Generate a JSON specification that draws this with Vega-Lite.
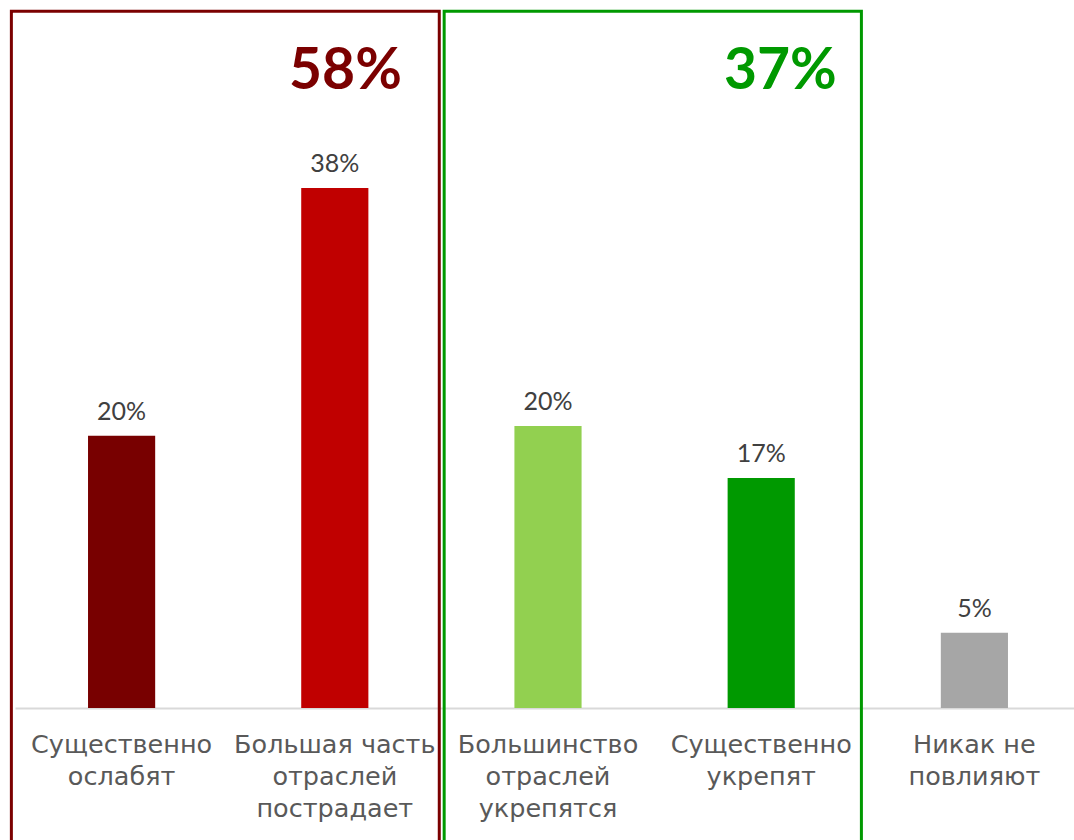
{
  "$schema": "https://vega.github.io/schema/vega-lite/v6.json",
  "autosize": "none",
  "width": 1059,
  "height": 698,
  "padding": {"left": 15, "top": 10, "right": 0, "bottom": 132},
  "background": "white",
  "config": {"view": {"stroke": null}},
  "datasets": {
    "bars": [
      {"cat": "Существенно|ослабят", "value": 19.9, "label": "20%", "color": "#780000"},
      {"cat": "Большая часть|отраслей|пострадает", "value": 38, "label": "38%", "color": "#C00000"},
      {"cat": "Большинство|отраслей|укрепятся", "value": 20.6, "label": "20%", "color": "#92D050"},
      {"cat": "Существенно|укрепят", "value": 16.8, "label": "17%", "color": "#009900"},
      {"cat": "Никак не|повлияют", "value": 5.5, "label": "5%", "color": "#A6A6A6"}
    ],
    "boxes": [
      {"group": "Ослабят", "x0": -0.017, "x1": 1.99, "y0": -10, "y1": 50.9, "total": "58%", "tx": 1.55, "ty": 46.5, "color": "#7B0000"},
      {"group": "Укрепят", "x0": 2.013, "x1": 3.97, "y0": -10, "y1": 50.9, "total": "37%", "tx": 3.59, "ty": 46.5, "color": "#009900"}
    ]
  },
  "layer": [
    {
      "data": {"name": "bars"},
      "layer": [
        {
          "mark": {"type": "bar"},
          "encoding": {
            "x": {
              "field": "cat", "type": "nominal", "sort": null,
              "scale": {"range": [0, 1066], "paddingInner": 0.685, "paddingOuter": 0.3425},
              "axis": {
                "title": null, "ticks": false, "grid": false,
                "domainColor": "#D9D9D9", "domainWidth": 2,
                "labelFont": "DejaVu Sans", "labelFontSize": 25.5, "labelColor": "#595959",
                "labelLineHeight": 32, "labelPadding": 24, "labelAngle": 0,
                "labelLimit": 300, "labelOverlap": false,
                "labelExpr": "split(datum.label, '|')"
              }
            },
            "y": {"field": "value", "type": "quantitative", "scale": {"domain": [0, 51], "nice": false, "zero": false}, "axis": null},
            "color": {"field": "color", "type": "nominal", "scale": null}
          }
        },
        {
          "mark": {"type": "text", "font": "Lato", "fontSize": 25, "color": "#404040", "baseline": "alphabetic", "dy": -16},
          "encoding": {
            "x": {"field": "cat", "type": "nominal", "sort": null},
            "y": {"field": "value", "type": "quantitative"},
            "text": {"field": "label"}
          }
        }
      ]
    },
    {
      "data": {"name": "boxes"},
      "layer": [
        {
          "mark": {"type": "rect", "fillOpacity": 0, "strokeWidth": 3},
          "encoding": {
            "x": {"field": "x0", "type": "quantitative", "scale": {"domain": [0, 5], "range": [0, 1066], "nice": false, "zero": false}, "axis": null},
            "x2": {"field": "x1"},
            "y": {"field": "y1", "type": "quantitative", "scale": {"domain": [0, 51], "nice": false, "zero": false}, "axis": null},
            "y2": {"field": "y0"},
            "stroke": {"field": "color", "type": "nominal", "scale": null}
          }
        },
        {
          "mark": {"type": "text", "font": "Lato", "fontWeight": "bold", "fontSize": 57, "baseline": "middle", "align": "center"},
          "encoding": {
            "x": {"field": "tx", "type": "quantitative"},
            "y": {"field": "ty", "type": "quantitative"},
            "text": {"field": "total"},
            "color": {"field": "color", "type": "nominal", "scale": null}
          }
        }
      ]
    }
  ],
  "resolve": {"scale": {"x": "independent"}}
}
